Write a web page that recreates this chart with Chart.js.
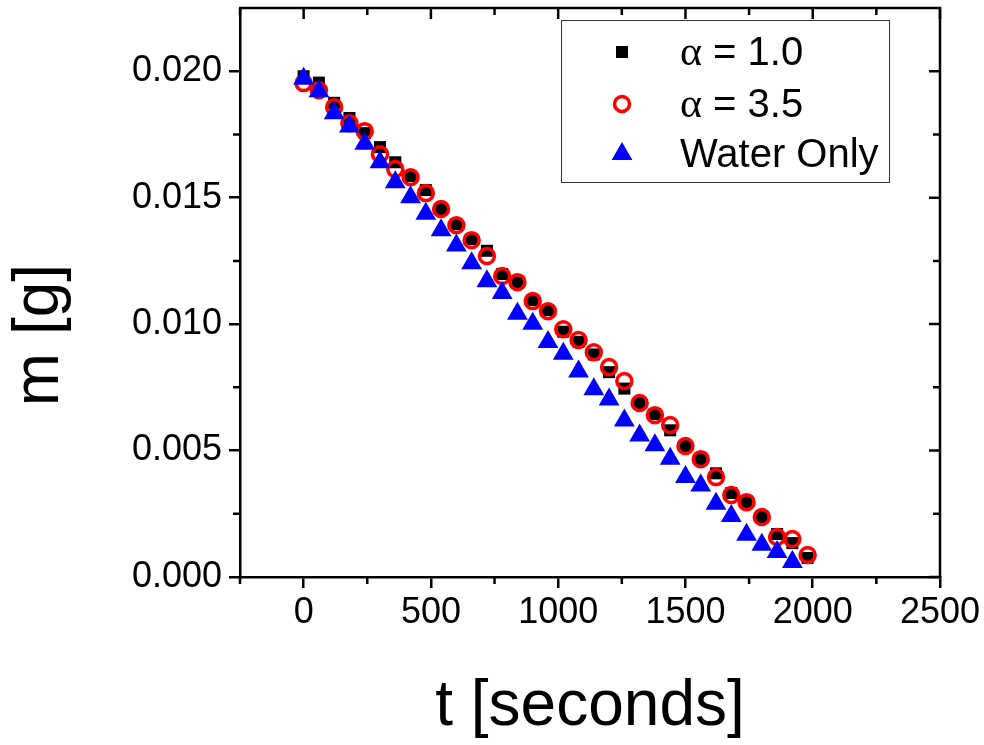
<!DOCTYPE html>
<html>
<head>
<meta charset="utf-8">
<script src="https://cdn.jsdelivr.net/npm/chart.js@4.4.1/dist/chart.umd.min.js"></script>
<style>
  html, body { margin: 0; padding: 0; background: #fff; }
  #wrap { width: 984px; height: 745px; }
</style>
</head>
<body>
<div id="wrap"><canvas id="massChart" width="984" height="745"></canvas></div>
<script>
// time in seconds
const times = [0, 60, 120, 180, 240, 300, 360, 420, 480, 540, 600, 660, 720, 780, 840, 900,
  960, 1020, 1080, 1140, 1200, 1260, 1320, 1380, 1440, 1500, 1560, 1620, 1680, 1740, 1800,
  1860, 1920, 1980];
// mass in grams
const massAlpha10 = [0.0198, 0.01955, 0.01875, 0.01815, 0.01755, 0.0170, 0.0164, 0.01585, 0.0153,
  0.01455, 0.01395, 0.01336, 0.0129, 0.01198, 0.01165, 0.01095, 0.01055, 0.0097, 0.0093, 0.0088,
  0.0081, 0.00745, 0.00688, 0.00644, 0.0058, 0.00518, 0.00466, 0.0041, 0.00332, 0.00296, 0.00237,
  0.0017, 0.00134, 0.00075];
const massAlpha35 = [0.01953, 0.01925, 0.01858, 0.01794, 0.01763, 0.01672, 0.01613, 0.01581, 0.01518,
  0.01455, 0.01391, 0.01332, 0.01269, 0.0119, 0.01166, 0.01091, 0.01051, 0.0098, 0.00937, 0.00889,
  0.0083, 0.00775, 0.00688, 0.0064, 0.00601, 0.00518, 0.00466, 0.00395, 0.00324, 0.00296, 0.00237,
  0.00158, 0.0015, 0.00087];
const massWater = [0.0197, 0.01921, 0.01834, 0.01781, 0.01713, 0.0164, 0.01561, 0.01502, 0.01436,
  0.01371, 0.01311, 0.01241, 0.01169, 0.01123, 0.01041, 0.01001, 0.00929, 0.00883, 0.00813, 0.00742,
  0.00702, 0.00619, 0.0056, 0.00521, 0.00468, 0.00395, 0.00362, 0.0029, 0.00241, 0.00167, 0.00128,
  0.00099, 0.00059];

const xTicks = [0, 500, 1000, 1500, 2000, 2500];
const xMinorTicks = [-250, 250, 750, 1250, 1750, 2250];
const yTicks = [0, 0.005, 0.010, 0.015, 0.020];
const yMinorTicks = [0.0025, 0.0075, 0.0125, 0.0175];

const sansFont = "'Liberation Sans', Arial, sans-serif";
const serifFont = "'Liberation Serif', 'Times New Roman', serif";
const axisWidth = 2.5;

function toPoints(xs, ys) {
  return ys.map((y, i) => ({ x: xs[i], y: y }));
}

function noPadding(s) {
  s.paddingLeft = 0; s.paddingRight = 0; s.paddingTop = 0; s.paddingBottom = 0;
}

// draws frame, minor + inner ticks, legend and axis titles
const framePlugin = {
  id: 'frame',
  afterDraw(chart) {
    const ctx = chart.ctx;
    const area = chart.chartArea;
    const xs = chart.scales.x;
    const ys = chart.scales.y;
    ctx.save();
    ctx.strokeStyle = '#000';
    ctx.lineWidth = axisWidth;
    ctx.beginPath();
    ctx.moveTo(area.left - 1, area.top);
    ctx.lineTo(area.right, area.top);
    ctx.lineTo(area.right, area.bottom + 1);
    ctx.stroke();

    ctx.beginPath();
    xTicks.forEach(v => {
      const px = xs.getPixelForValue(v);
      ctx.moveTo(px, area.top); ctx.lineTo(px, area.top + 11);
    });
    xMinorTicks.forEach(v => {
      const px = xs.getPixelForValue(v);
      ctx.moveTo(px, area.top); ctx.lineTo(px, area.top + 7);
      ctx.moveTo(px, area.bottom); ctx.lineTo(px, area.bottom + 7);
    });
    yTicks.forEach(v => {
      const py = ys.getPixelForValue(v);
      ctx.moveTo(area.right, py); ctx.lineTo(area.right - 11, py);
    });
    yMinorTicks.forEach(v => {
      const py = ys.getPixelForValue(v);
      ctx.moveTo(area.right, py); ctx.lineTo(area.right - 7, py);
      ctx.moveTo(area.left, py); ctx.lineTo(area.left - 7, py);
    });
    ctx.stroke();

    // legend
    ctx.lineWidth = 1;
    ctx.strokeStyle = '#333';
    ctx.strokeRect(561.5, 20.5, 328, 162);
    const rows = [
      { ds: 0, greek: 'α', text: ' = 1.0', y: 65 },
      { ds: 1, greek: 'α', text: ' = 3.5', y: 117 },
      { ds: 2, greek: '', text: 'Water Only', y: 167 }
    ];
    rows.forEach(r => {
      const d = chart.data.datasets[r.ds];
      ctx.fillStyle = d.backgroundColor;
      ctx.strokeStyle = d.borderColor;
      ctx.lineWidth = d.borderWidth;
      Chart.helpers.drawPoint(ctx, {
        pointStyle: d.pointStyle, radius: d.pointRadius, borderWidth: d.borderWidth, rotation: 0
      }, 622, r.y - 13);
      ctx.fillStyle = '#000';
      ctx.textBaseline = 'alphabetic';
      ctx.textAlign = 'left';
      let tx = 680;
      if (r.greek) {
        ctx.font = '42px ' + serifFont;
        ctx.fillText(r.greek, tx, r.y);
        tx += ctx.measureText(r.greek).width;
      }
      ctx.font = '40px ' + sansFont;
      ctx.fillText(r.text, tx, r.y);
    });

    // axis titles
    ctx.fillStyle = '#000';
    ctx.font = '64px ' + sansFont;
    ctx.textAlign = 'center';
    ctx.textBaseline = 'alphabetic';
    ctx.fillText('t [seconds]', (area.left + area.right) / 2, 725);
    ctx.translate(58, 335);
    ctx.rotate(-Math.PI / 2);
    ctx.fillText('m [g]', 0, 0);
    ctx.restore();
  }
};

new Chart(document.getElementById('massChart'), {
  type: 'scatter',
  data: {
    datasets: [{
      label: 'α = 1.0',
      data: toPoints(times, massAlpha10),
      pointStyle: 'rect',
      pointRadius: 8.5,
      backgroundColor: '#000',
      borderColor: '#000',
      borderWidth: 0,
      order: 3
    }, {
      label: 'α = 3.5',
      data: toPoints(times, massAlpha35),
      pointStyle: 'circle',
      pointRadius: 7.5,
      backgroundColor: 'rgba(0,0,0,0)',
      borderColor: '#ff0000',
      borderWidth: 3.5,
      order: 2
    }, {
      label: 'Water Only',
      data: toPoints(times, massWater),
      pointStyle: 'triangle',
      pointRadius: 12,
      backgroundColor: '#0000ff',
      borderColor: '#0000ff',
      borderWidth: 0,
      order: 1
    }]
  },
  options: {
    responsive: false,
    animation: false,
    devicePixelRatio: 1,
    layout: { autoPadding: false, padding: { top: 8, right: 44, left: 0, bottom: 0 } },
    plugins: {
      legend: { display: false },
      tooltip: { enabled: false }
    },
    scales: {
      x: {
        type: 'linear',
        min: -250,
        max: 2500,
        afterBuildTicks: s => { s.ticks = xTicks.map(v => ({ value: v })); },
        afterFit: s => { s.height = 168; noPadding(s); },
        afterUpdate: noPadding,
        ticks: {
          color: '#000',
          padding: 3,
          maxRotation: 0,
          font: { family: sansFont, size: 36 },
          callback: v => String(v)
        },
        grid: { drawOnChartArea: false, drawTicks: true, tickLength: 11, lineWidth: axisWidth, color: '#000' },
        border: { display: true, color: '#000', width: axisWidth }
      },
      y: {
        type: 'linear',
        min: 0,
        max: 0.0225,
        afterBuildTicks: s => { s.ticks = yTicks.map(v => ({ value: v })); },
        afterFit: s => { s.width = 240; noPadding(s); },
        afterUpdate: noPadding,
        ticks: {
          color: '#000',
          padding: 7,
          font: { family: sansFont, size: 36 },
          callback: v => v.toFixed(3)
        },
        grid: { drawOnChartArea: false, drawTicks: true, tickLength: 11, lineWidth: axisWidth, color: '#000' },
        border: { display: true, color: '#000', width: axisWidth }
      }
    }
  },
  plugins: [framePlugin]
});
</script>
</body>
</html>
